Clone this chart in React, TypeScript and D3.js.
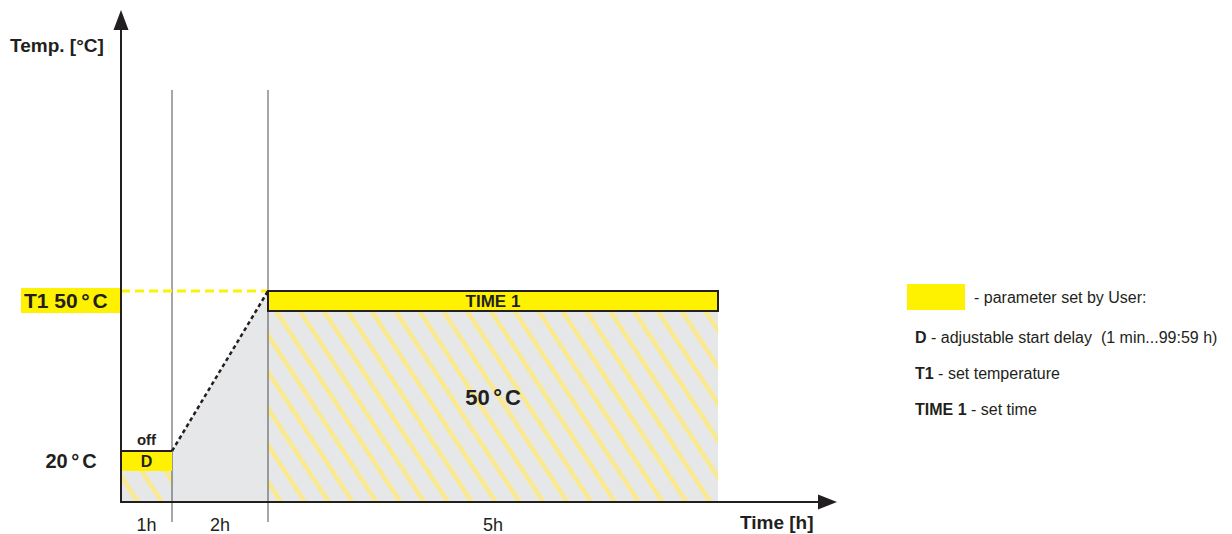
import * as d3 from "d3";

// program phases (hours) and temperatures
const phaseLabels = ["1h", "2h", "5h"];
const phaseHours = [1, 2, 5];
const startTemp = 20;
const setTemp = 50;
const legendItems = [
  { key: "D", text: " - adjustable start delay  (1 min...99:59 h)" },
  { key: "T1", text: " - set temperature" },
  { key: "TIME 1", text: " - set time" },
];

const YELLOW = "#fff200";
const HATCH = "#fbe98e";
const GREY = "#e6e7e8";
const INK = "#231f20";
const FONT = "'Liberation Sans', Arial, sans-serif";

// "50 ° C" style label with spaced degree sign
function Deg({ v }: { v: number }) {
  return (
    <>
      {v}
      <tspan dx={3.5}>°</tspan>
      <tspan dx={3}>C</tspan>
    </>
  );
}

export default function App() {
  const W = 1232;
  const H = 534;

  // cumulative time breakpoints 0,1,3,8
  const bounds = [0, ...d3.cumsum(phaseHours)];
  // schematic (piecewise) time axis
  const x = d3.scaleLinear().domain(bounds).range([121, 172, 268, 718]);
  const y = d3.scaleLinear().domain([startTemp, setTemp]).range([451, 291]);
  const y0 = 502;

  const t0 = x(bounds[0]);
  const t1 = x(bounds[1]);
  const t2 = x(bounds[2]);
  const t3 = x(bounds[3]);

  const ramp = d3.line<[number, number]>()
    .x((d) => x(d[0]))
    .y((d) => y(d[1]));

  const rampArea = d3.area<[number, number]>()
    .x((d) => x(d[0]))
    .y0(y0)
    .y1((d) => y(d[1]));

  const boxH = 20;

  return (
    <div style={{ position: "absolute", left: 0, top: 0 }}>
      <svg width={W} height={H} style={{ display: "block", fontFamily: FONT }}>
        <defs>
          <pattern id="hatch" patternUnits="userSpaceOnUse" width={20} height={20}
            patternTransform="rotate(-33)">
            <rect width={20} height={20} fill={GREY} />
            <rect x={0} y={0} width={4.5} height={20} fill={HATCH} />
          </pattern>
        </defs>

        {/* start delay region */}
        <rect x={t0} y={y(startTemp)} width={t1 - t0} height={y0 - y(startTemp)} fill="url(#hatch)" />
        {/* heating ramp */}
        <path d={rampArea([[bounds[1], startTemp], [bounds[2], setTemp]]) ?? ""} fill={GREY} />
        {/* holding region */}
        <rect x={t2} y={y(setTemp)} width={t3 - t2} height={y0 - y(setTemp)} fill="url(#hatch)" />

        {/* phase separators */}
        {[t1, t2].map((v, i) => (
          <line key={i} x1={v} x2={v} y1={90} y2={522} stroke="#4d4d4f" strokeWidth={1} />
        ))}

        {/* set temperature guide */}
        <line x1={t0} x2={t2} y1={y(setTemp)} y2={y(setTemp)} stroke={YELLOW}
          strokeWidth={3} strokeDasharray="9 5" />

        {/* D box */}
        <rect x={t0} y={y(startTemp)} width={t1 - t0} height={boxH} fill={YELLOW} />
        <line x1={t0} x2={t1} y1={y(startTemp)} y2={y(startTemp)} stroke={INK} strokeWidth={2} />
        <text x={(t0 + t1) / 2} y={y(startTemp) + 16} textAnchor="middle" fontWeight="bold"
          fontSize={16} fill={INK}>D</text>
        <text x={(t0 + t1) / 2} y={y(startTemp) - 6} textAnchor="middle" fontWeight="bold"
          fontSize={15} fill={INK}>off</text>

        {/* ramp line */}
        <path d={ramp([[bounds[1], startTemp], [bounds[2], setTemp]]) ?? ""} fill="none"
          stroke={INK} strokeWidth={2.5} strokeDasharray="4 3" />

        {/* TIME 1 box */}
        <rect x={t2} y={y(setTemp)} width={t3 - t2} height={boxH} fill={YELLOW}
          stroke={INK} strokeWidth={2} />
        <text x={(t2 + t3) / 2} y={y(setTemp) + 16} textAnchor="middle" fontWeight="bold"
          fontSize={17} fill={INK}>TIME 1</text>
        <text x={(t2 + t3) / 2} y={405} textAnchor="middle" fontWeight="bold"
          fontSize={22} fill={INK}><Deg v={setTemp} /></text>

        {/* axes */}
        <line x1={t0} x2={t0} y1={y0 + 1} y2={26} stroke={INK} strokeWidth={2} />
        <path d={`M${t0},10 L${t0 - 7.5},30 L${t0 + 7.5},30 Z`} fill={INK} />
        <line x1={t0 - 1} x2={822} y1={y0} y2={y0} stroke={INK} strokeWidth={2} />
        <path d={`M837,${y0} L818,${y0 - 7.5} L818,${y0 + 7.5} Z`} fill={INK} />

        {/* y labels */}
        <rect x={21} y={y(setTemp) - 3} width={t0 - 22} height={25} fill={YELLOW} />
        <text x={24} y={y(setTemp) + 17} fontWeight="bold" fontSize={21} fill={INK}>
          T1 <Deg v={setTemp} />
        </text>
        <text x={71} y={y(startTemp) + 17} textAnchor="middle" fontWeight="bold" fontSize={20}
          fill={INK}><Deg v={startTemp} /></text>
        <text x={10} y={52} fontWeight="bold" fontSize={19} fill={INK}>Temp. [°C]</text>

        {/* x labels */}
        {phaseLabels.map((lab, i) => (
          <text key={lab} x={(x(bounds[i]) + x(bounds[i + 1])) / 2} y={531}
            textAnchor="middle" fontSize={18} fill={INK}>{lab}</text>
        ))}
        <text x={740} y={529} fontWeight="bold" fontSize={19} fill={INK}>Time [h]</text>

        {/* legend */}
        <rect x={907} y={284} width={58} height={26} fill={YELLOW} />
        <text x={974} y={303} fontSize={16} fill={INK}>- parameter set by User:</text>
        {legendItems.map((it, i) => (
          <text key={it.key} x={915} y={343 + i * 36} fontSize={16} fill={INK}>
            <tspan fontWeight="bold">{it.key}</tspan>
            <tspan xmlSpace="preserve">{it.text}</tspan>
          </text>
        ))}
      </svg>
    </div>
  );
}
